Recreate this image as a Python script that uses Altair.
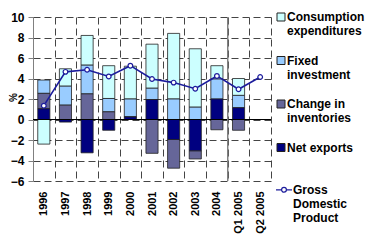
import altair as alt
import pandas as pd

periods = ["1996", "1997", "1998", "1999", "2000", "2001", "2002", "2003", "2004", "Q1 2005", "Q2 2005"]
consumption = [-2.4, 1.7, 2.9, 3.2, 3.2, 4.3, 6.4, 5.7, 1.3, 1.65, None]
fixed_investment = [1.3, 1.85, 2.8, 1.3, 1.75, 1.1, 2.0, 1.2, 1.95, 1.2, None]
inventories = [1.5, 1.4, 2.5, 0.75, 0.0, -3.3, -2.8, -0.8, -1.0, -1.05, None]
net_exports = [1.05, -0.25, -3.25, -1.05, 0.25, 1.95, -1.95, -3.05, 2.0, 1.15, None]
gdp = [1.35, 4.65, 4.85, 4.2, 5.25, 3.95, 3.6, 3.0, 4.25, 2.95, 4.15]

series = ["Consumption expenditures", "Fixed investment", "Change in inventories", "Net exports"]
series_lines = [["Consumption", "expenditures"], ["Fixed", "investment"], ["Change in", "inventories"], ["Net exports"]]
colors = ["#CCFFFF", "#99CCFF", "#666699", "#000080"]
stack_rank = [3, 2, 1, 0]
gdp_name = "Gross Domestic Product"
gdp_lines = ["Gross", "Domestic", "Product"]
y_ticks = [-6, -4, -2, 0, 2, 4, 6, 8, 10]
separator_at = ["Q1 2005"]

FONT = "Liberation Sans"
LINE_COLOR = "#1c1c9c"

rows = []
for name, rank, vals in zip(series, stack_rank, [consumption, fixed_investment, inventories, net_exports]):
    for p, v in zip(periods, vals):
        if v is not None:
            rows.append({"period": p, "series": name, "value": v, "rank": rank})
bars_df = pd.DataFrame(rows)
gdp_df = pd.DataFrame({"period": periods, "value": gdp, "label": gdp_name})
sep_df = pd.DataFrame({"period": separator_at})


def lines_expr(names, lines):
    expr = "datum.label"
    for n, l in reversed(list(zip(names, lines))):
        arr = "[" + ", ".join("'" + s + "'" for s in l) + "]"
        expr = f"datum.label == '{n}' ? {arr} : ({expr})"
    return expr


square_path = "M-1,0.25H1V2.25H-1Z"
line_path = ("M-1,0.6H-0.3M0.3,0.6H1"
             "M-0.3,0.6A0.3,0.3 0 1,0 0.3,0.6A0.3,0.3 0 1,0 -0.3,0.6Z")

x_scale = alt.Scale(domain=periods, paddingInner=0, paddingOuter=0)
y_scale = alt.Scale(domain=[-6, 10], nice=False)

x_enc = alt.X(
    "period:N", sort=periods, scale=x_scale,
    axis=alt.Axis(title=None, labelAngle=-90, ticks=False, domain=False, grid=True,
                  tickBand="extent", labelFontSize=11, labelFontWeight="bold",
                  labelPadding=10, labelColor="black"),
)
y_axis = alt.Axis(values=y_ticks, tickCount=9, title="%", titleAngle=-90, titleX=-17, titleY=80,
                  titleBaseline="alphabetic", titleAlign="center", titleFontSize=10,
                  titleFontWeight="bold", labelFontSize=12, labelFontWeight="bold",
                  labelPadding=4, tickSize=5, tickColor="#808080", domainColor="#808080",
                  grid=True, labelColor="black", labelOverlap=False, labelSeparation=0)

bars = alt.Chart(bars_df).mark_bar(width={"band": 0.56}, stroke="#222222", strokeWidth=0.8).encode(
    x=x_enc,
    y=alt.Y("value:Q", stack="zero", scale=y_scale, axis=y_axis),
    fill=alt.Fill("series:N", scale=alt.Scale(domain=series, range=colors),
                  legend=alt.Legend(title=None, orient="none", legendX=242, legendY=-11,
                                    symbolType=square_path, symbolSize=64,
                                    symbolStrokeColor="#222222", symbolStrokeWidth=1,
                                    labelExpr=lines_expr(series, series_lines),
                                    labelBaseline="top", labelFontSize=12,
                                    labelFontWeight="bold", labelColor="black",
                                    labelOffset=0, rowPadding=12.5, gridAlign="all",
                                    padding=0, labelLimit=200)),
    order=alt.Order("rank:Q", sort="ascending"),
)

zero = alt.Chart(bars_df).mark_rule(color="black", strokeWidth=1).encode(y=alt.datum(0))

sep = alt.Chart(sep_df).mark_rule(color="#808080", strokeWidth=1.5).encode(
    x=alt.X("period:N", bandPosition=0), y=alt.datum(10), y2=alt.datum(-6)
)

line = alt.Chart(gdp_df).mark_line(strokeWidth=1.6).encode(
    x=alt.X("period:N", sort=periods),
    y=alt.Y("value:Q", axis=y_axis),
    stroke=alt.Stroke("label:N", scale=alt.Scale(range=[LINE_COLOR]),
                      legend=alt.Legend(title=None, orient="none", legendX=242, legendY=159,
                                        symbolType=line_path, symbolSize=256,
                                        symbolFillColor="white", symbolStrokeWidth=1.2,
                                        labelExpr=lines_expr([gdp_name], [gdp_lines]),
                                        labelBaseline="top", labelFontSize=12,
                                        labelFontWeight="bold", labelColor="black",
                                        labelOffset=0, padding=0, labelLimit=200)),
)
points = alt.Chart(gdp_df).mark_point(shape="circle", filled=True, fill="white", stroke=LINE_COLOR,
                                      strokeWidth=1.2, size=22, opacity=1).encode(
    x=alt.X("period:N", sort=periods),
    y=alt.Y("value:Q", axis=y_axis),
)

chart = alt.layer(bars, zero, sep, line, points).properties(
    width=238, height=164,
    autosize=alt.AutoSizeParams(type="none"),
    padding={"left": 25, "top": 9, "right": 97, "bottom": 60},
).configure(font=FONT).configure_view(stroke=None).configure_axis(
    gridDash=[7, 4], gridColor="#444444", gridWidth=1, gridOpacity=1
).configure_axisY(labelOverlap=False)

chart.save("out.html", embed_options={"renderer": "svg", "actions": False})
